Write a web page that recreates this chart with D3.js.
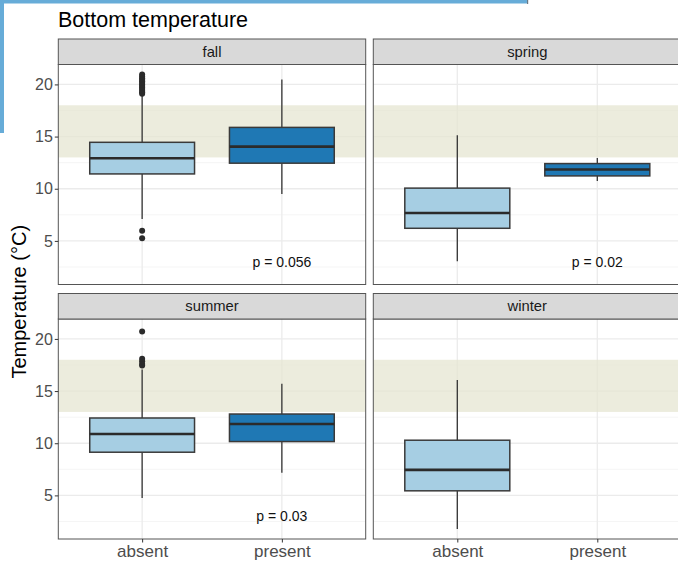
<!DOCTYPE html>
<html>
<head>
<meta charset="utf-8">
<script src="https://cdn.jsdelivr.net/npm/d3@7"></script>
<style>
  html, body { margin: 0; padding: 0; background: #fff; }
  svg { display: block; font-family: "Liberation Sans", Arial, sans-serif; }
</style>
</head>
<body>
<svg id="chart" width="678" height="563"></svg>
<script>
// ---------------- data ----------------
const seasons = ["fall", "spring", "summer", "winter"];
const groups = ["absent", "present"];
const yTicks = [5, 10, 15, 20];
const yMinorTicks = [2.5, 7.5, 12.5, 17.5];
const bandRange = [13, 18];

const boxSeason   = ["fall", "fall", "spring", "spring", "summer", "summer", "winter"];
const boxGroup    = ["absent", "present", "absent", "present", "absent", "present", "absent"];
const whiskerLow  = [7.1, 9.5, 3.06, 10.73, 4.74, 7.16, 1.78];
const q1          = [11.42, 12.45, 6.21, 11.23, 9.14, 10.16, 5.44];
const median      = [12.92, 14.04, 7.67, 11.84, 10.89, 11.85, 7.45];
const q3          = [14.45, 15.88, 10.06, 12.41, 12.42, 12.8, 10.29];
const whiskerHigh = [18.95, 20.47, 15.12, 12.95, 17.07, 15.7, 16.05];

const outlierSeason = ["fall","fall","fall","fall","fall","fall","fall","fall","fall","fall","fall","fall","fall","fall","fall",
                       "summer","summer","summer","summer","summer"];
const outlierGroup  = ["absent","absent","absent","absent","absent","absent","absent","absent","absent","absent","absent","absent","absent","absent","absent",
                       "absent","absent","absent","absent","absent"];
const outlierValue  = [19.1, 19.25, 19.4, 19.55, 19.7, 19.85, 20.0, 20.15, 20.3, 20.45, 20.6, 20.75, 20.95, 5.98, 5.25,
                       17.45, 17.6, 17.87, 18.1, 20.7];

const pSeason = ["fall", "spring", "summer"];
const pGroup  = ["present", "present", "present"];
const pLabel  = ["p = 0.056", "p = 0.02", "p = 0.03"];
const pY      = [3, 3, 3];

const groupColors = ["#a6cee3", "#1f78b4"];

// ---------------- layout ----------------
const svg = d3.select("#chart");
const colX = [58.3, 373.3];
const panelW = [307.4, 308];
const stripTop = [39, 293.5];
const stripH = 25.5;
const panelH = 220;

// decorative frame from the screenshot
svg.append("rect").attr("x", 0).attr("y", 0).attr("width", 528).attr("height", 3.5).attr("fill", "#67acd8");
svg.append("rect").attr("x", 0).attr("y", 0).attr("width", 4).attr("height", 133).attr("fill", "#67acd8");
svg.append("rect").attr("x", 527).attr("y", 0).attr("width", 1.2).attr("height", 4).attr("fill", "#6b7a86");

// title
svg.append("text").attr("x", 58).attr("y", 27).attr("font-size", 21.5).attr("fill", "#000")
  .text("Bottom temperature");

// y extent with ggplot-like 5% expansion
const allVals = whiskerLow.concat(whiskerHigh, outlierValue);
const vmin = d3.min(allVals), vmax = d3.max(allVals);
const pad = (vmax - vmin) * 0.05;

const colorScale = d3.scaleOrdinal().domain(groups).range(groupColors);

seasons.forEach((season, i) => {
  const col = i % 2, row = Math.floor(i / 2);
  const x0 = colX[col], w = panelW[col];
  const sTop = stripTop[row];
  const pTop = sTop + stripH;
  const g = svg.append("g");

  const y = d3.scaleLinear().domain([vmin - pad, vmax + pad]).range([pTop + panelH, pTop]);
  const x = d3.scalePoint().domain(groups).range([x0, x0 + w]).padding(0.6);
  const bw = x.step() * 0.75;

  // panel bg
  g.append("rect").attr("x", x0).attr("y", pTop).attr("width", w).attr("height", panelH).attr("fill", "#fff");

  // minor grid
  g.selectAll(null).data(yMinorTicks).join("line")
    .attr("x1", x0).attr("x2", x0 + w).attr("y1", d => y(d)).attr("y2", d => y(d))
    .attr("stroke", "#f2f2f2").attr("stroke-width", 0.8);
  // major grid
  g.selectAll(null).data(yTicks).join("line")
    .attr("x1", x0).attr("x2", x0 + w).attr("y1", d => y(d)).attr("y2", d => y(d))
    .attr("stroke", "#ebebeb").attr("stroke-width", 1.3);
  g.selectAll(null).data(groups).join("line")
    .attr("x1", d => x(d)).attr("x2", d => x(d)).attr("y1", pTop).attr("y2", pTop + panelH)
    .attr("stroke", "#ebebeb").attr("stroke-width", 1.3);

  // band
  g.append("rect").attr("x", x0).attr("width", w)
    .attr("y", y(bandRange[1])).attr("height", y(bandRange[0]) - y(bandRange[1]))
    .attr("fill", "rgb(228,228,208)").attr("opacity", 0.72);

  // boxes
  const idx = d3.range(boxSeason.length).filter(k => boxSeason[k] === season);
  idx.forEach(k => {
    const cx = x(boxGroup[k]);
    g.append("line").attr("x1", cx).attr("x2", cx).attr("y1", y(whiskerHigh[k])).attr("y2", y(q3[k]))
      .attr("stroke", "#333").attr("stroke-width", 1.3);
    g.append("line").attr("x1", cx).attr("x2", cx).attr("y1", y(q1[k])).attr("y2", y(whiskerLow[k]))
      .attr("stroke", "#333").attr("stroke-width", 1.3);
    g.append("rect").attr("x", cx - bw / 2).attr("width", bw)
      .attr("y", y(q3[k])).attr("height", y(q1[k]) - y(q3[k]))
      .attr("fill", colorScale(boxGroup[k])).attr("stroke", "#3a3a3a").attr("stroke-width", 1.5);
    g.append("line").attr("x1", cx - bw / 2).attr("x2", cx + bw / 2).attr("y1", y(median[k])).attr("y2", y(median[k]))
      .attr("stroke", "#2b2b2b").attr("stroke-width", 2.6);
  });

  // outliers
  const oIdx = d3.range(outlierValue.length).filter(k => outlierSeason[k] === season);
  g.selectAll(null).data(oIdx).join("circle")
    .attr("cx", k => x(outlierGroup[k])).attr("cy", k => y(outlierValue[k])).attr("r", 3)
    .attr("fill", "#2b2b2b");

  // p labels
  const pIdx = d3.range(pLabel.length).filter(k => pSeason[k] === season);
  g.selectAll(null).data(pIdx).join("text")
    .attr("x", k => x(pGroup[k])).attr("y", k => y(pY[k])).attr("dy", "0.35em")
    .attr("text-anchor", "middle").attr("font-size", 14).attr("fill", "#111")
    .text(k => pLabel[k]);

  // panel border
  g.append("rect").attr("x", x0).attr("y", pTop).attr("width", w).attr("height", panelH)
    .attr("fill", "none").attr("stroke", "#555").attr("stroke-width", 1);

  // strip
  g.append("rect").attr("x", x0).attr("y", sTop).attr("width", w).attr("height", stripH)
    .attr("fill", "#d9d9d9").attr("stroke", "#555").attr("stroke-width", 1);
  g.append("text").attr("x", x0 + w / 2).attr("y", sTop + stripH / 2).attr("dy", "0.35em")
    .attr("text-anchor", "middle").attr("font-size", 14.8).attr("fill", "#1a1a1a").text(season);

  // y axis on left column
  if (col === 0) {
    const ax = g.append("g").attr("transform", `translate(${x0},0)`)
      .call(d3.axisLeft(y).tickValues(yTicks).tickSize(3.5).tickPadding(2).tickFormat(d3.format("d")));
    ax.select(".domain").remove();
    ax.selectAll(".tick line").attr("stroke", "#333");
    ax.selectAll(".tick text").attr("font-size", 16).attr("fill", "#4d4d4d")
      .attr("font-family", "Liberation Sans, Arial, sans-serif");
  }
  // x axis on bottom row
  if (row === 1) {
    const ax = g.append("g").attr("transform", `translate(0,${pTop + panelH})`)
      .call(d3.axisBottom(x).tickSize(3.5).tickPadding(2));
    ax.select(".domain").remove();
    ax.selectAll(".tick line").attr("stroke", "#333");
    ax.selectAll(".tick text").attr("font-size", 17).attr("fill", "#4d4d4d")
      .attr("font-family", "Liberation Sans, Arial, sans-serif");
  }
});

// y axis title
svg.append("text")
  .attr("transform", `translate(26, ${(stripTop[0] + stripH + stripTop[1] + stripH + panelH) / 2}) rotate(-90)`)
  .attr("text-anchor", "middle").attr("font-size", 20).attr("fill", "#000")
  .text("Temperature (°C)");
</script>
</body>
</html>
